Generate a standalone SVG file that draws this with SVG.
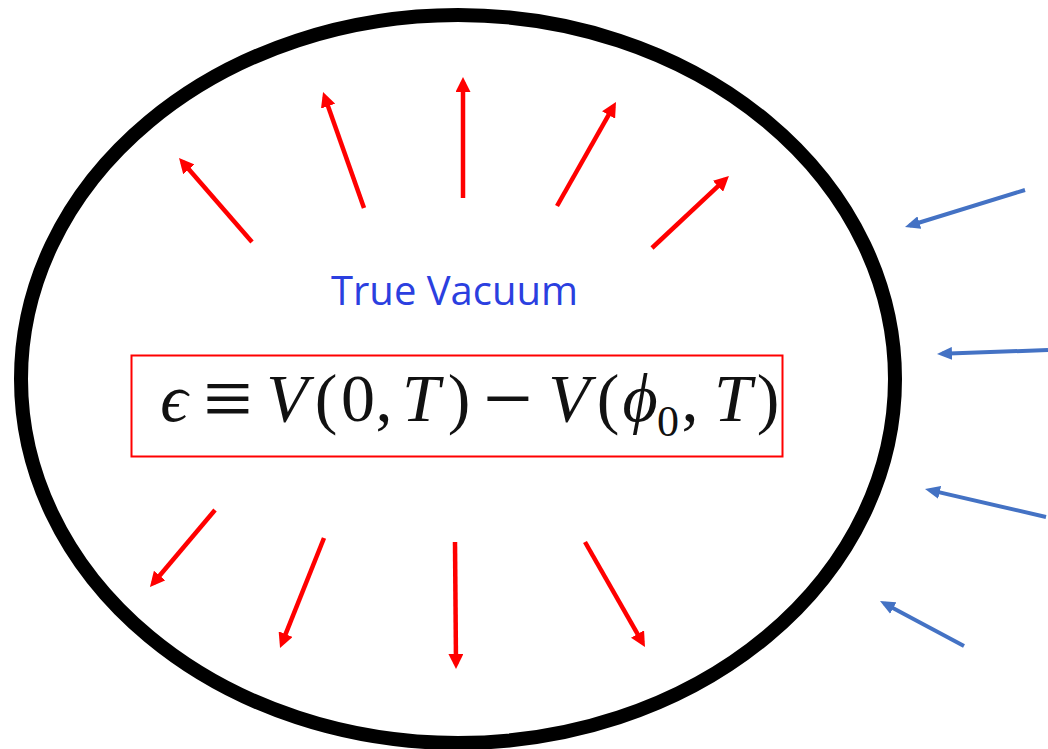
<svg xmlns="http://www.w3.org/2000/svg" width="1048" height="749" viewBox="0 0 1048 749">
<style>
.red{stroke:#ff0000;stroke-width:4.5;fill:none;marker-end:url(#rh)}
.blue{stroke:#4472c4;stroke-width:4;fill:none;marker-end:url(#bh)}
.math{font-family:"Liberation Serif","DejaVu Serif",serif;font-size:68px;fill:#111;text-anchor:middle}
.it{font-style:italic}
.op{font-size:88px}
</style>
<defs>
<marker id="rh" markerUnits="userSpaceOnUse" viewBox="0 0 15 15" markerWidth="15" markerHeight="15" refX="10" refY="7.5" orient="auto"><path d="M0,0 L15,7.5 L0,15 z" fill="#ff0000"/></marker>
<marker id="bh" markerUnits="userSpaceOnUse" viewBox="0 0 15 13" markerWidth="15" markerHeight="13" refX="10" refY="6.5" orient="auto"><path d="M0,0 L15,6.5 L0,13 z" fill="#4472c4"/></marker>
</defs>
<rect width="1048" height="749" fill="#ffffff"/>
<g id="bubble"><ellipse cx="458" cy="379" rx="437" ry="364" fill="none" stroke="#000" stroke-width="14"/></g>
<g id="label"><text x="331" y="305" font-family="'Open Sans','Liberation Sans',sans-serif" font-size="41" fill="#2b3fe0" textLength="247" lengthAdjust="spacingAndGlyphs">True Vacuum</text></g>
<g id="formula">
<rect x="131.5" y="355.5" width="651" height="101" fill="none" stroke="#ff0000" stroke-width="2"/>
<text class="math" y="421"><tspan x="174" class="it">ϵ</tspan><tspan x="228" y="428" class="op">≡</tspan><tspan x="287" y="421" class="it">V</tspan><tspan x="326">(</tspan><tspan x="358">0</tspan><tspan x="384">,</tspan><tspan x="421" class="it">T</tspan><tspan x="459">)</tspan><tspan x="508" y="428" class="op">−</tspan><tspan x="569" y="421" class="it">V</tspan><tspan x="608">(</tspan><tspan x="640" class="it">ϕ</tspan><tspan x="668" y="436" font-size="44">0</tspan><tspan x="690" y="421">,</tspan><tspan x="733" class="it">T</tspan><tspan x="768">)</tspan></text>
</g>
<g id="connectors">
<line class="red" x1="252" y1="242" x2="182.3" y2="161.8"/>
<line class="red" x1="364" y1="208" x2="324.7" y2="96.7"/>
<line class="red" x1="463" y1="198" x2="463" y2="82"/>
<line class="red" x1="557" y1="206" x2="613.5" y2="106.3"/>
<line class="red" x1="652" y1="248" x2="725.3" y2="179.4"/>
<line class="red" x1="215" y1="510" x2="153.2" y2="583.2"/>
<line class="red" x1="324" y1="538" x2="281.9" y2="643.4"/>
<line class="red" x1="455" y1="542" x2="456" y2="664"/>
<line class="red" x1="585" y1="542" x2="642.5" y2="642.7"/>
<line class="blue" x1="1025" y1="190" x2="909.8" y2="225.5"/>
<line class="blue" x1="1048" y1="350" x2="942" y2="353.8"/>
<line class="blue" x1="1046" y1="517" x2="929.9" y2="490.1"/>
<line class="blue" x1="964" y1="646" x2="884.4" y2="603.4"/>
</g>
</svg>
